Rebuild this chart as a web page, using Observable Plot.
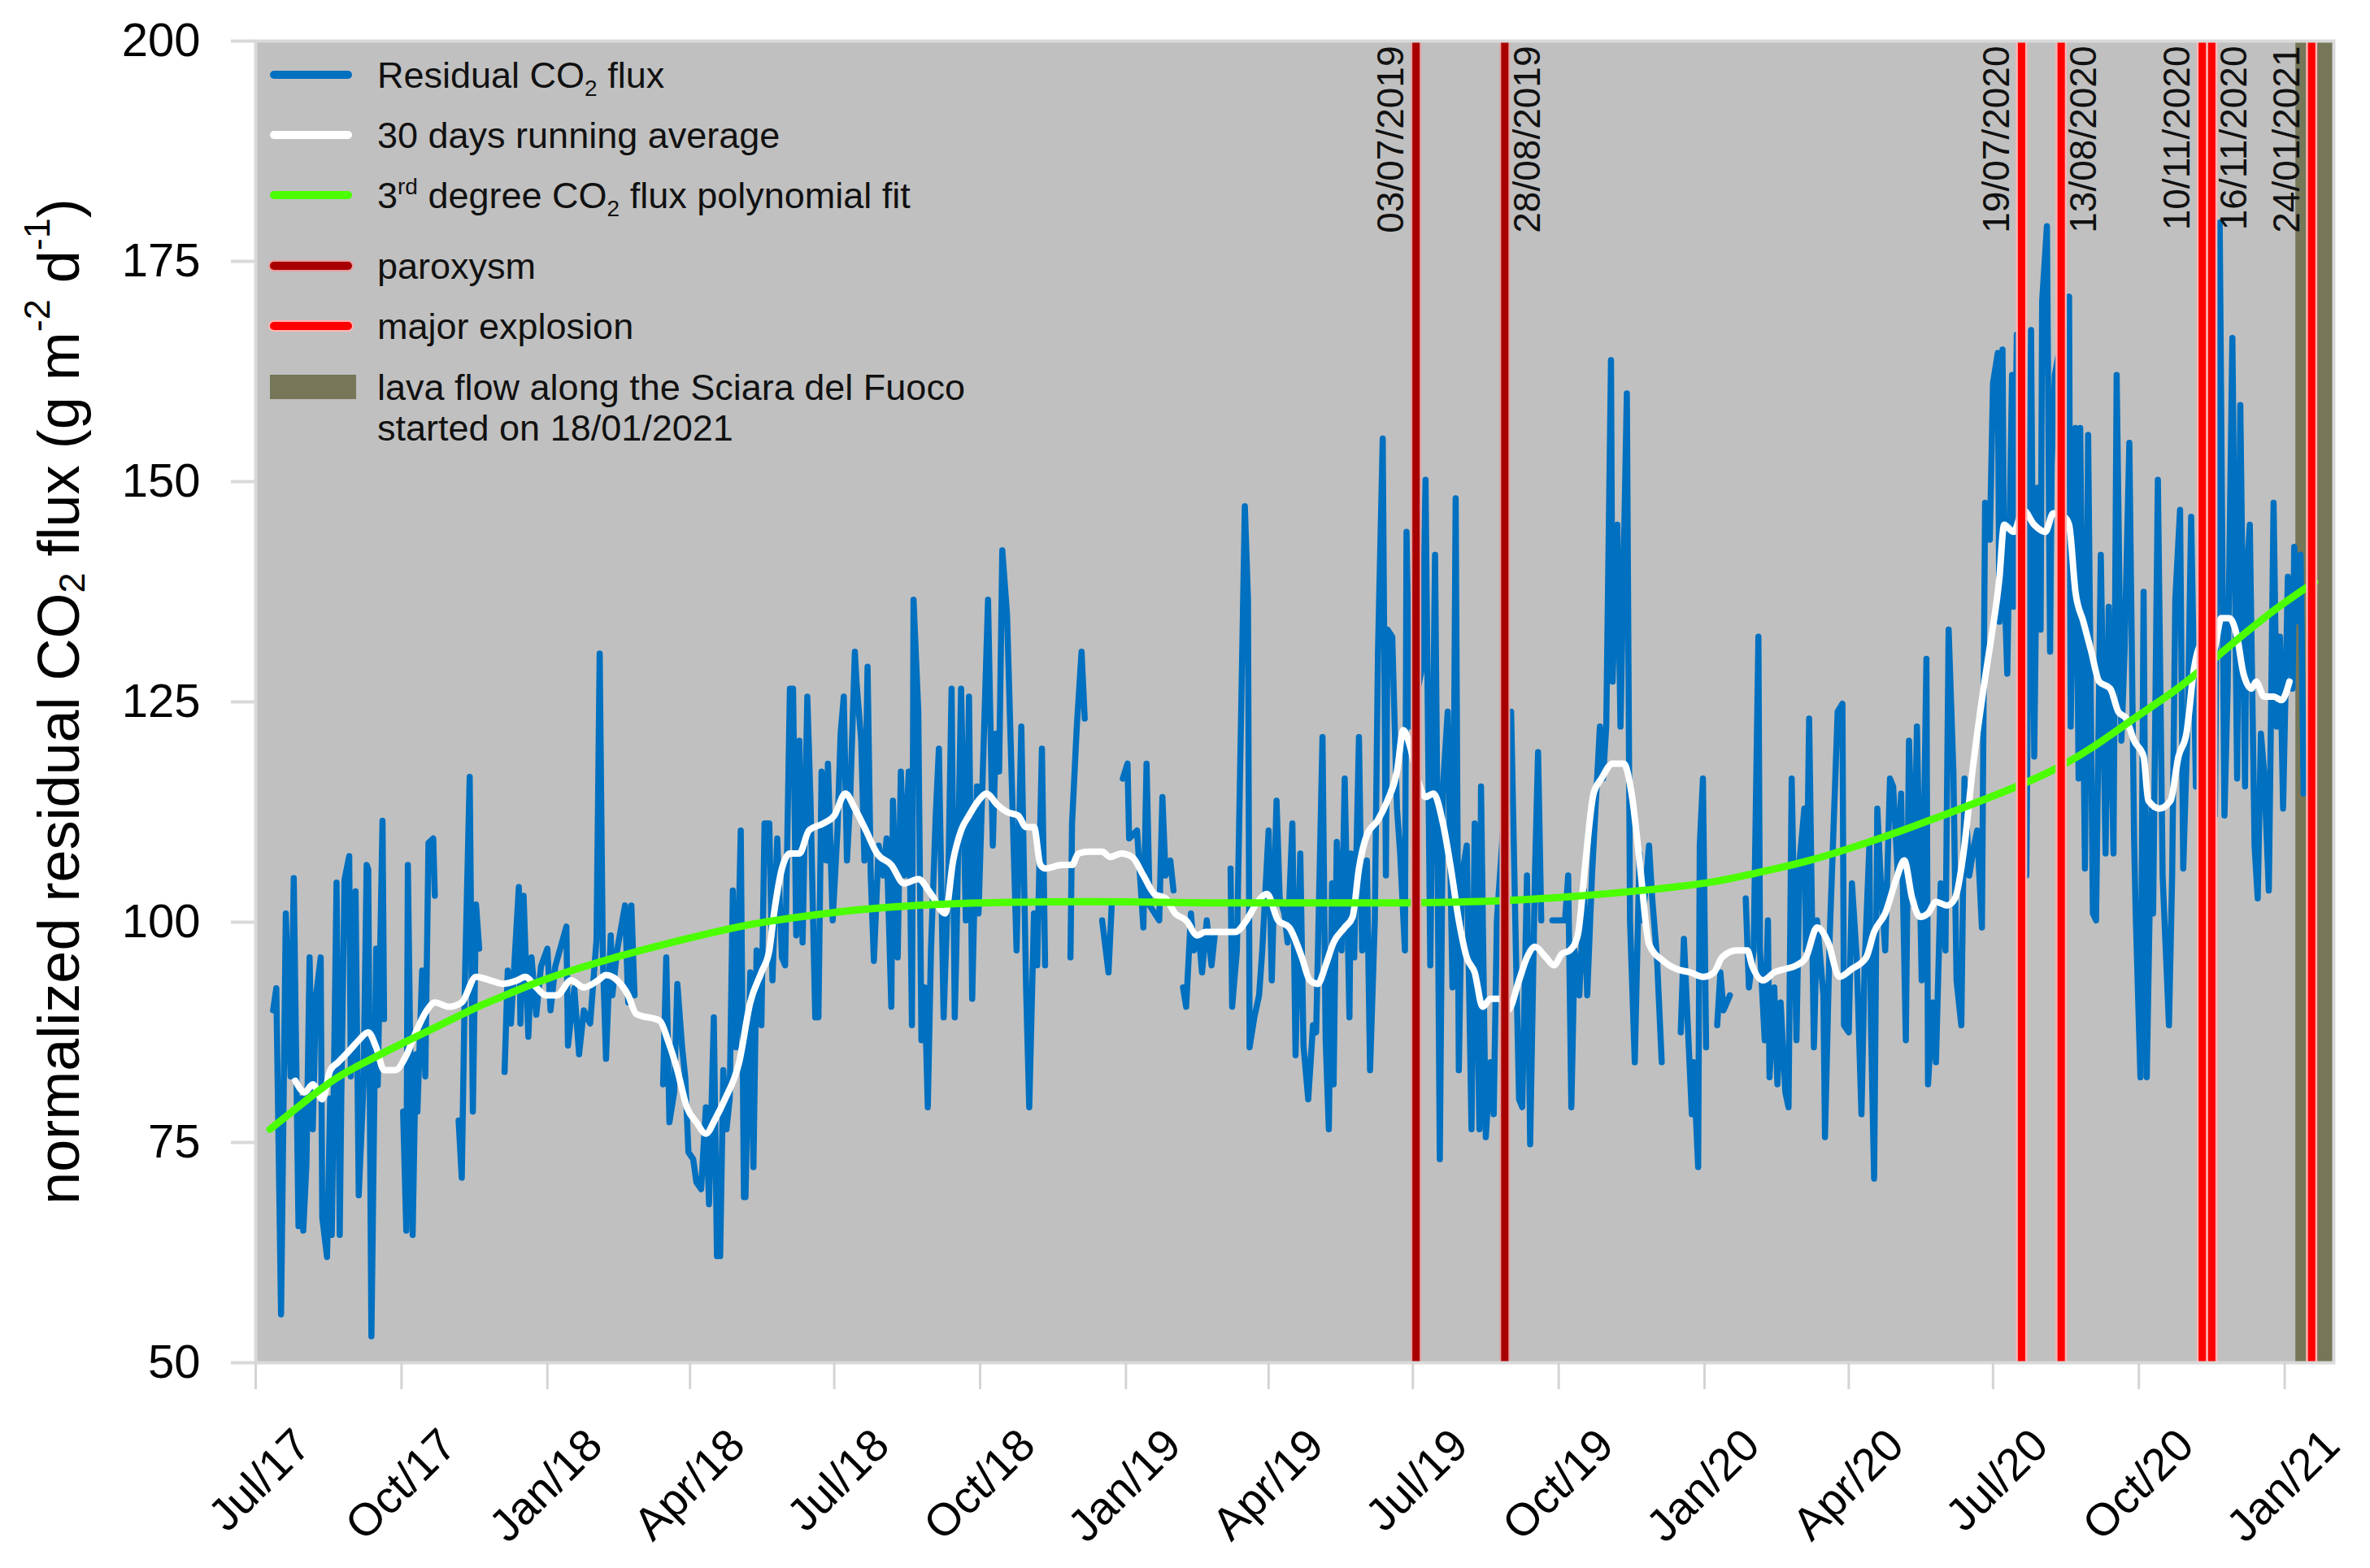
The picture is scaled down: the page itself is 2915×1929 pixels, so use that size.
<!DOCTYPE html>
<html>
<head>
<meta charset="utf-8">
<script src="https://cdn.jsdelivr.net/npm/d3@7"></script>
<script src="https://cdn.jsdelivr.net/npm/@observablehq/plot@0.6"></script>
<style>
html, body { margin: 0; padding: 0; background: #ffffff; }
#chart svg { display: block; }
</style>
</head>
<body>
<div id="chart"></div>
<script>
// ---------------- DATA ----------------
const seriesStart = "2017-07-01"; // day 0 of the day offsets below

// Residual CO2 flux: [day offset from seriesStart, value]; null = gap in the record
const fluxReadings = [
[11,90],[13,92.5],[16,55.5],[19,101],[22,82.5],[24,105],[27,65.5],[29,80],[30,65],[32,72.5],[34,96],[36,76.5],[38,91.5],[41,96],[42,66.5],[45,62],[47,80],[48,64.5],[51,104.5],[53,64.5],[54,80],[56,104.8],[59,107.5],[60,82.5],[63,103.5],[65,69],[68,81.5],[70,106.5],[71,106],[73,53],[76,97],[77,81.5],[80,111.5],[81,89],[87,null],
[93,78.5],[95,65],[96,106.5],[99,64.5],[101,85],[102,78.5],[105,94.5],[107,82.5],[109,109],[112,109.5],[113,103],[120,null],
[128,77.5],[130,71],[132,93.5],[135,116.5],[137,78.5],[139,102],[141,97],[149,null],
[157,83],[159,94.5],[161,88.5],[166,104],[167,88.5],[169,103],[172,87],[174,96],[177,89.5],[180,95],[184,97],[186,90],[189,95],[196,99.5],[197,86],[201,92.5],[204,85],[207,90],[211,88.5],[215,98],[217,130.5],[219,96],[221,84.5],
[224,98.5],[225,91.7],[228,96.8],[233,101.9],[235,90.9],[237,101.9],[239,91.7],[248,null],
[257,81.6],[259,96],[261,77.3],[264,80.7],[266,93],[269,85.8],[271,82.4],[273,73.9],[276,73.1],[278,70.5],[281,69.7],[284,79],[286,68],[289,89.2],[291,62.1],[293,62.1],[295,83.2],[297,76.5],[299,79.9],[301,103.6],[303,85.8],[306,110.4],[308,68.8],[309,68.8],[312,94.3],[314,72.2],[316,96.8],[319,88.3],[321,111.2],[324,111.2],[326,93.4],[329,109.5],[332,96],[334,95.1],[337,126.5],[339,126.5],[341,98.5],[343,120.6],[345,97.7],[348,125.6],[350,113.8],[353,89.2],[355,89.2],[357,117.1],[360,107],[361,118],[364,100.2],[367,110.4],[369,121.4],[371,125.6],[373,107],[375,113.8],[378,130.7],[379,127.3],[382,120.6],[384,107],[386,129],[388,105.3],[390,95.6],[393,108.7],[396,105.3],[398,109.5],[401,90.4],[402,113.8],[405,96],[407,117.1],[409,105.3],[412,117.1],[414,88.3],[415,136.6],[418,123.9],[420,86.6],[422,92.6],[424,79],[426,96.8],[429,112.1],[431,119.7],[434,89.2],[437,105.3],[439,126.5],[441,89.2],
[442,96.8],[445,126.5],[448,100.2],[450,125.6],[452,91.3],[455,115.4],[456,101],[462,136.6],[465,108.7],[467,121.4],[469,117.1],[471,142.2],[474,134.9],[480,96.8],[483,122.2],[486,92.6],[488,79],[491,101],[493,95.1],[496,119.7],[498,95.1],[506,null],
[514,96],[515,111.2],[518,122.2],[521,130.7],[523,123.1],[528,null],[534,100.2],[538,94.3],[540,101.9],[543,null],[547,116.3],[550,118],[551,109.5],[556,110.4],[560,99.4],[562,118],[564,101.9],[570,100.2],[572,114.2],[574,105.3],[577,107],[579,103.6],[582,null],[585,92.6],[587,90.4],[590,101],[592,96.8],[595,98.5],[597,94.3],[600,100.2],[603,95.1],[605,98.5],[610,null],[615,106.1],[616,90.4],[619,96.8],[624,147.2],[626,136.6],[627,85.8],[630,89.2],[633,91.7],[635,96.8],[639,110.4],[641,93.4],[644,113.8],[646,102.7],[649,101],[651,97.7],[654,111.2],[656,84.9],[659,107.8],
[661,86],[664,79.9],[667,88.3],[669,87.5],[673,121],[675,86.6],[677,76.5],[679,104.4],[680,81.6],[682,109.1],[685,96.8],[687,116.3],[690,89.2],[691,107.8],[693,96],[696,121],[698,96.8],[701,107],[703,83.2],[706,100.2],[708,130.7],[711,154.9],[713,105.3],[714,133.2],[717,132.4],[720,112.9],[722,107.8],[725,96.8],[726,144.3],[728,122.2],[736,129],[738,150.2],[741,95.1],[744,141.7],[745,122.2],[747,73.1],[749,115.4],[752,123.9],[755,92.6],[757,148.1],[759,83.2],[761,105.3],[764,108.7],[767,76.5],[769,111.2],[772,76.5],[773,115.4],[776,75.6],[779,84.1],[781,78.2],[783,100.2],[792,123.9],[795,96.8],[797,79.9],[799,79],[802,105.3],[804,74.8],[807,105.3],[809,119.3],[811,100.2],[815,null],[818,100.2],[826,100.2],[828,105.3],[830,79],[832,96.8],[835,91.7],[838,103.6],[840,91.7],[843,105.3],[845,112.1],[848,122.2],[850,116.3],[852,122.2],[855,163.8],[856,127.3],[859,145.1],[861,122.2],[865,160],[867,100.2],[870,84.1],[873,107.8],[875,100.2],[879,108.7],
[881,102.7],[884,96],[887,84.1],[893,null],[899,87.5],[901,98.1],[906,78.2],[907,84.1],[910,72.2],[911,108.7],[913,116.3],[915,85.8],[919,null],[922,88.3],[924,94.3],[926,90],[930,91.7],[935,null],[940,102.7],[942,92.6],[945,96.8],[948,132.4],[949,96.8],[952,86.6],[954,100.2],[955,82.4],[958,92.6],[960,81.6],[962,90.9],[965,80.7],[967,79],[969,116.3],[972,86.6],[974,107],[977,112.9],[978,96.8],[980,123.1],[983,85.8],[985,100.2],[989,91.7],[990,75.6],[993,98.5],[995,108.7],[998,123.9],[1001,124.8],[1002,88.3],[1005,87.5],[1007,104.4],[1010,96],[1013,78.2],[1015,95.1],[1018,108.7],[1019,88.3],[1021,70.9],[1023,112.9],[1025,105.3],[1028,96.8],[1031,116.3],[1033,115.4],[1036,105.3],[1038,114.6],[1041,86.6],[1043,120.6],[1046,101.9],[1048,122.2],[1051,93.4],[1054,129.9],[1055,81.6],[1058,90.9],[1060,84.1],[1063,104.4],[1066,96.8],[1068,133.2],[1071,117.1],[1073,93.4],[1076,88.3],[1078,116.3],[1081,105.3],[1084,108.7],[1086,110.4],[1089,99.4],[1091,147.6],[1094,143.4],[1096,161.2],[1099,164.6],
[1100,134.1],[1102,165],[1103,139.2],[1105,128.2],[1108,162.1],[1109,135.8],[1111,166.7],[1117,105.3],[1120,167.2],[1122,118.8],[1124,149.3],[1126,133.2],[1127,170.5],[1130,179],[1132,130.7],[1133,151.9],[1135,162.1],[1144,171],[1145,122.2],[1148,156.1],[1150,116.3],[1151,156.1],[1154,106.1],[1156,155.3],[1159,101],[1161,100.2],[1164,141.7],[1167,107.8],[1169,135.8],[1172,107.8],[1174,162.1],[1177,120.6],[1179,130.7],[1182,154.4],[1185,109.5],[1186,101],[1189,82.4],[1191,137.5],[1193,82.4],[1196,113.8],[1197,101],[1200,150.2],[1203,105.3],[1205,96.8],[1207,88.3],[1209,105.3],[1211,136.6],[1214,146.8],[1216,106.1],[1219,123.9],[1221,146],[1224,115.4],[1231,122.2],[1233,130.7],[1236,112.1],[1239,179.4],[1242,112.1],[1244,126.5],[1247,166.3],[1250,116.3],[1252,158.7],[1255,115.4],[1256,139.2],[1258,145.1],[1261,108.7],[1263,102.7],[1265,121.4],[1267,117.1],[1270,103.6],[1273,147.6],[1275,122.2],[1277,132.4],[1279,112.9],[1282,139.2],[1285,126.5],[1286,142.6],[1289,134.1],[1290,141.7],[1292,114.6]
];

// 30 days running average: [day offset, value]
const averageReadings = [
[25,82],[31,80.7],[36,81.6],[42,79.9],[47,83.2],[52,84.1],[59,85.4],[65,86.6],[71,87.5],[76,85.8],[81,83.2],[88,83.2],[95,84.9],[101,87.5],[108,90],[113,90.9],[122,90.4],[130,90.9],[139,93.8],[148,93.4],[156,93],[165,93.4],[170,93.8],[177,92.6],[183,91.7],[190,91.7],[199,93.4],[207,92.6],[216,93.4],[221,94],[228,93.4],[235,91.7],[240,89.6],[255,88.8],[260,86.6],[266,83.2],[272,79],[278,77.3],[284,76],[290,77.7],[296,79.9],[305,84.1],[312,90.9],[319,94.3],[324,96.8],[327,101],[332,106.1],[337,107.8],[343,107.8],[349,110.4],[358,111.2],[365,112.1],[372,114.6],[378,112.9],[385,110.4],[392,107.8],[401,106.5],[409,104.4],[418,104.9],[426,103.2],[435,101],[440,107],[445,110.4],[450,112.1],[456,113.8],[461,114.6],[468,113.3],[474,112.5],[481,112.1],[486,110.8],[491,110.8],[495,106.5],[498,106.1],[509,106.5],[515,106.5],[519,107.8],[526,108],[534,108],[539,107.4],[546,107.8],[553,107.4],[560,105.3],[567,103.2],[574,102.7],[580,101],[587,100.2],[594,98.5],[599,98.9],[611,98.9],[618,98.9],[625,100.2],[632,102.3],[638,103.2],[645,100.2],[652,99.4],[660,96],[665,93.4],[670,93],[675,95.1],[680,97.7],[687,99.4],[692,100.6],[696,106.1],[701,109.9],[708,111.6],[714,113.8],[720,117.1],[724,121.8],[728,120.1],[733,116.3],[738,114.2],[743,114.6],[749,111.2],[754,106.1],[759,100.2],[764,96],[769,94.3],[774,90.4],[779,91.3],[785,91.3],[790,90],[797,93.4],[802,96],[807,97.2],[814,96],[819,95.1],[824,96.4],[829,96.8],[834,98.5],[839,107],[844,114.6],[849,116.3],[856,118],[863,118],[868,114.6],[873,107],[879,97.5],[888,95.6],[896,94.7],[905,94.3],[913,93.8],[920,94.3],[925,96],[934,96.8],[941,96.8],[944,95.1],[951,93.4],[958,94.3],[965,94.7],[972,95.1],[978,96],[985,99.4],[992,97.7],[999,93.8],[1007,94.7],[1016,96],[1021,98.9],[1028,101],[1035,104.9],[1040,107],[1045,102.7],[1050,100.6],[1055,101],[1060,102.3],[1067,101.9],[1072,102.7],[1078,108.7],[1083,117.1],[1090,126.5],[1095,132.4],[1100,139],[1103,145.1],[1109,144.3],[1115,146.8],[1122,145.1],[1129,144.3],[1134,146.4],[1141,146],[1144,145.1],[1148,137.5],[1153,134.1],[1158,130.7],[1163,127.3],[1170,126.5],[1175,123.9],[1180,123.1],[1185,120.6],[1191,118.8],[1194,113.8],[1201,112.9],[1208,113.8],[1213,118.8],[1218,121.4],[1223,129],[1228,131.6],[1235,130.7],[1240,134.5],[1245,134.5],[1250,132.4],[1254,128.2],[1259,126.5],[1262,127.3],[1267,125.6],[1273,125.6],[1278,125.2],[1283,127.3]
];

// 3rd degree polynomial fit: [day offset, value]
const fitReadings = [
[9,76.5],[30,79.5],[50,82.2],[71,84.3],[92,86.2],[115,88.2],[139,90.3],[160,91.9],[184,93.6],[223,95.8],[260,97.6],[300,99.3],[324,100.1],[360,101],[400,101.7],[441,102.1],[500,102.3],[550,102.3],[600,102.2],[660,102.2],[720,102.2],[780,102.4],[830,102.9],[880,103.7],[920,104.6],[947,105.6],[980,107],[1016,109],[1040,110.5],[1067,112.3],[1100,114.6],[1132,117.1],[1160,120],[1184,123],[1210,126.2],[1235,129.8],[1269,134.8],[1299,138.6]
];

// Volcanic events (vertical lines)
const eventDates  = ["2019-07-03","2019-08-28","2020-07-19","2020-08-13","2020-11-10","2020-11-16","2021-01-18"];
const eventLabels = ["03/07/2019","28/08/2019","19/07/2020","13/08/2020","10/11/2020","16/11/2020","24/01/2021"];
const eventTypes  = ["paroxysm","paroxysm","major explosion","major explosion","major explosion","major explosion","major explosion"];
const eventLabelSide = ["left","right","left","right","left","right","left"];

// Lava flow band
const lavaStart = "2021-01-08";
const lavaEnd   = "2021-02-01";

// Axes
const xDomain = ["2017-07-01", "2021-02-01"];
const xTickDates = ["2017-07-01","2017-10-01","2018-01-01","2018-04-01","2018-07-01","2018-10-01","2019-01-01","2019-04-01","2019-07-01","2019-10-01","2020-01-01","2020-04-01","2020-07-01","2020-10-01","2021-01-01"];
const xTickLabels = ["Jul/17","Oct/17","Jan/18","Apr/18","Jul/18","Oct/18","Jan/19","Apr/19","Jul/19","Oct/19","Jan/20","Apr/20","Jul/20","Oct/20","Jan/21"];
const yTicks = [50, 75, 100, 125, 150, 175, 200];

// ---------------- BUILD ----------------
const parse = s => new Date(s + "T00:00:00Z");
const t0 = parse(seriesStart);
const dayToDate = d => new Date(t0.getTime() + d * 864e5);

const flux = fluxReadings.map(([d, v]) => ({date: dayToDate(d), value: v}));
const average = averageReadings.map(([d, v]) => ({date: dayToDate(d), value: v}));
const fit = fitReadings.map(([d, v]) => ({date: dayToDate(d), value: v}));
const events = eventDates.map((d, i) => ({date: parse(d), label: eventLabels[i], type: eventTypes[i], side: eventLabelSide[i]}));
const lava = [{start: parse(lavaStart), end: parse(lavaEnd)}];
const xTicks = xTickDates.map((d, i) => ({date: parse(d), label: xTickLabels[i]}));

const FONT = "'Liberation Sans', Arial, Helvetica, sans-serif";
const BLUE = "#0070c0", GREEN = "#4cff00", DARKRED = "#a80000", RED = "#ff0000", OLIVE = "#767658";

const parox = events.filter(e => e.type === "paroxysm");
const major = events.filter(e => e.type === "major explosion");

const chart = Plot.plot({
  width: 2915,
  height: 1929,
  marginLeft: 314,
  marginRight: 45,
  marginTop: 50,
  marginBottom: 253,
  style: {fontFamily: FONT, background: "#ffffff", color: "#000"},
  x: {type: "utc", domain: xDomain.map(parse)},
  y: {domain: [50, 200]},
  marks: [
    Plot.frame({fill: "#c0c0c0"}),
    Plot.rect(lava, {x1: "start", x2: "end", fill: OLIVE}),
    Plot.lineY(flux, {x: "date", y: "value", stroke: BLUE, strokeWidth: 7.5, strokeLinejoin: "round"}),
    Plot.lineY(average, {x: "date", y: "value", stroke: "#ffffff", strokeWidth: 8, strokeLinejoin: "round", curve: "monotone-x"}),
    Plot.lineY(fit, {x: "date", y: "value", stroke: GREEN, strokeWidth: 9, curve: "natural"}),
    Plot.ruleX(parox, {x: "date", stroke: "#e6a0a0", strokeWidth: 13}),
    Plot.ruleX(parox, {x: "date", stroke: DARKRED, strokeWidth: 9}),
    Plot.ruleX(major, {x: "date", stroke: "#ffb4b4", strokeWidth: 14}),
    Plot.ruleX(major, {x: "date", stroke: RED, strokeWidth: 9}),
    Plot.text(events.filter(e => e.side === "left"), {x: "date", text: "label", frameAnchor: "top", rotate: -90, textAnchor: "end", lineAnchor: "middle", dx: -30, dy: 6, fontSize: 46, fill: "#111"}),
    Plot.text(events.filter(e => e.side === "right"), {x: "date", text: "label", frameAnchor: "top", rotate: -90, textAnchor: "end", lineAnchor: "middle", dx: 28, dy: 6, fontSize: 46, fill: "#111"}),
    Plot.frame({stroke: "#d9d9d9", strokeWidth: 4}),
    Plot.axisY({ticks: yTicks, tickSize: 30, tickPadding: 38, fontSize: 58, stroke: "#d9d9d9", strokeWidth: 4, fill: "#000", label: null, tickFormat: d => String(d)}),
    Plot.axisX({ticks: xTickDates.map(parse), tickSize: 33, stroke: "#d4d4d4", strokeWidth: 3, tickFormat: () => "", label: null}),
    Plot.text(xTicks, {x: "date", text: "label", frameAnchor: "bottom", rotate: -45, textAnchor: "end", lineAnchor: "middle", dx: 58, dy: 92, fontSize: 56, fill: "#000"})
  ]
});

document.getElementById("chart").appendChild(chart);

// ---------- rich text (sub/superscripts): legend and y-axis title ----------
const svg = d3.select(chart);

function addParts(textSel, parts, base) {
  let shift = 0;
  parts.forEach(([s, kind]) => {
    const target = kind === "sub" ? base * 0.22 : kind === "sup" ? -base * 0.38 : 0;
    const ts = textSel.append("tspan").attr("dy", target - shift).text(s);
    if (kind) ts.attr("font-size", Math.round(base * 0.62));
    shift = target;
  });
}

// Y axis title
const YFS = 72;
const yTitle = svg.append("text")
  .attr("transform", "translate(72,863) rotate(-90)")
  .attr("text-anchor", "middle")
  .attr("dominant-baseline", "central")
  .attr("font-family", FONT)
  .attr("font-size", YFS)
  .attr("fill", "#000");
addParts(yTitle, [["normalized residual CO"],["2","sub"],[" flux (g m"],["-2","sup"],[" d"],["-1","sup"],[")"]], YFS);

// Legend
const legendItems = [
  {cy: 92,  kind: "line", color: BLUE, parts: [["Residual CO"],["2","sub"],[" flux"]]},
  {cy: 166, kind: "line", color: "#ffffff", parts: [["30 days running average"]]},
  {cy: 240, kind: "line", color: GREEN, parts: [["3"],["rd","sup"],[" degree CO"],["2","sub"],[" flux polynomial fit"]]},
  {cy: 327, kind: "line", color: DARKRED, halo: "#e6a0a0", parts: [["paroxysm"]]},
  {cy: 401, kind: "line", color: RED, halo: "#ffb4b4", parts: [["major explosion"]]},
  {cy: 476, kind: "rect", color: OLIVE, parts: [["lava flow along the Sciara del Fuoco"]], second: "started on 18/01/2021"}
];
const LFS = 45;
const lg = svg.append("g").attr("font-family", FONT).attr("font-size", LFS).attr("fill", "#111").attr("text-anchor", "start");
legendItems.forEach(it => {
  if (it.kind === "line") {
    if (it.halo) lg.append("line").attr("x1", 337).attr("x2", 428).attr("y1", it.cy).attr("y2", it.cy)
      .attr("stroke", it.halo).attr("stroke-width", 14).attr("stroke-linecap", "round");
    lg.append("line").attr("x1", 337).attr("x2", 428).attr("y1", it.cy).attr("y2", it.cy)
      .attr("stroke", it.color).attr("stroke-width", 10).attr("stroke-linecap", "round");
  } else {
    lg.append("rect").attr("x", 332).attr("y", it.cy - 15).attr("width", 106).attr("height", 30).attr("fill", it.color);
  }
  const t = lg.append("text").attr("x", 464).attr("y", it.cy + LFS * 0.35).attr("text-anchor", "start");
  addParts(t, it.parts, LFS);
  if (it.second) lg.append("text").attr("x", 464).attr("y", it.cy + 50 + LFS * 0.35).attr("text-anchor", "start").text(it.second);
});
</script>
</body>
</html>
